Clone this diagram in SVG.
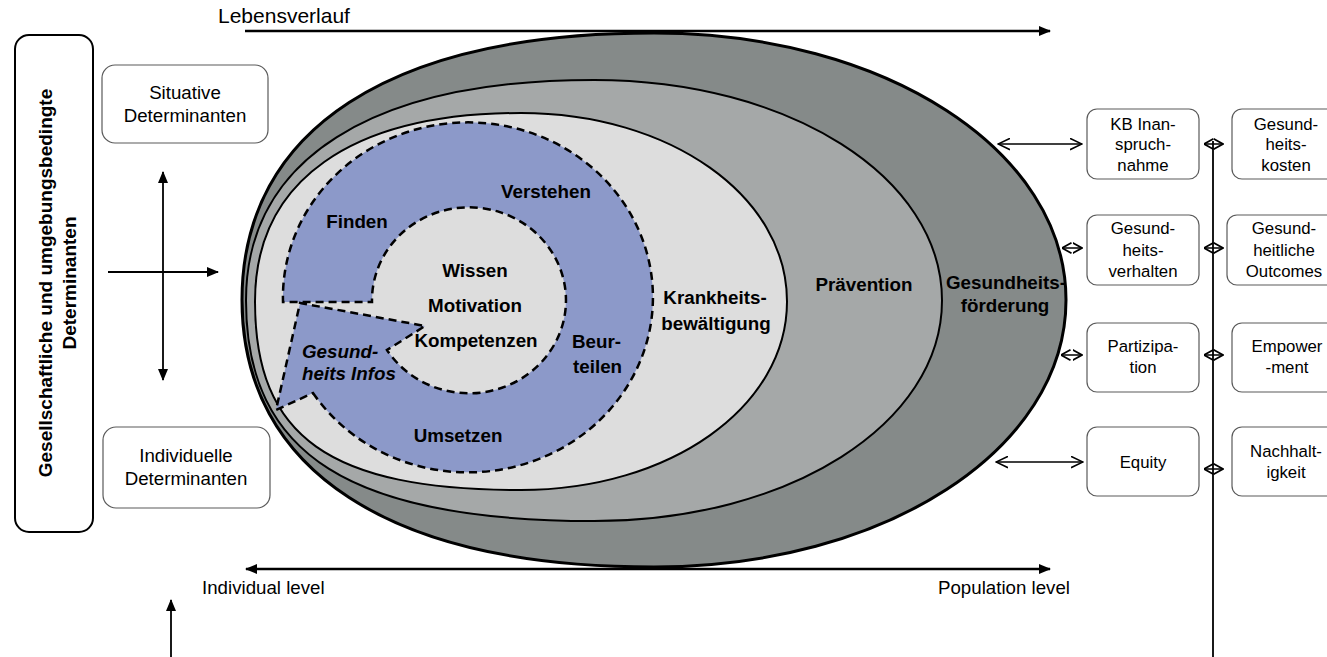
<svg xmlns="http://www.w3.org/2000/svg" width="1327" height="657" viewBox="0 0 1327 657">
<defs>
<style>
text{font-family:"Liberation Sans",Arial,sans-serif;fill:#000}
.r{font-size:18.7px}
.rs{font-size:16.8px}
.b{font-weight:bold;font-size:18.8px}
.bi{font-weight:bold;font-style:italic;font-size:18.8px}
.c{text-anchor:middle}
.box{fill:#fff;stroke:#5a5a5a;stroke-width:1.2}
.ln{stroke:#000;fill:none}
.ring{stroke:#000;stroke-width:2}
</style>
<marker id="fa" viewBox="0 0 12 10" refX="11" refY="5" markerWidth="12" markerHeight="10" markerUnits="userSpaceOnUse" orient="auto-start-reverse"><path d="M0,0 L12,5 L0,10 z" fill="#000"/></marker>
<marker id="oa" viewBox="0 0 13 13" refX="12" refY="6.5" markerWidth="13" markerHeight="13" markerUnits="userSpaceOnUse" orient="auto-start-reverse"><path d="M0,0.8 L12,6.5 L0,12.2" fill="none" stroke="#000" stroke-width="1.5"/></marker>
<marker id="od" viewBox="0 0 10 12" refX="9.5" refY="6" markerWidth="10" markerHeight="12" markerUnits="userSpaceOnUse" orient="auto-start-reverse"><path d="M0,0.8 L9.5,6 L0,11.2" fill="none" stroke="#000" stroke-width="1.8"/></marker>
<path id="pm" d="M246,300.5 C246,159.4 371.3,80 594,80 C788.9,80 942,177 942,300.5 C942,424 788.9,521 594,521 C350.4,521 246,454.9 246,300.5 Z"/>
<clipPath id="cm"><use href="#pm"/></clipPath>
</defs>

<g id="gesundheitsfoerderung">
<path d="M242,300 C242,129.1 390.3,33 654,33 C884.7,33 1066,150.5 1066,300 C1066,449.5 884.7,567 654,567 C390.3,567 242,470.9 242,300 Z" fill="#858a89" stroke="#000" stroke-width="3"/>
<text class="b c" x="1006" y="289">Gesundheits-</text>
<text class="b c" x="1005" y="312">förderung</text>
</g>

<g id="praevention">
<use href="#pm" fill="#a5a8a8"/>
<text class="b c" x="864" y="291">Prävention</text>
</g>

<g id="krankheitsbewaeltigung">
<path d="M255,301.5 C255,180.9 350.8,113 521,113 C670,113 787,195.9 787,301.5 C787,407.1 670,490 521,490 C329.5,490 255,437.2 255,301.5 Z" fill="#dddddd" class="ring" clip-path="url(#cm)"/>
<use href="#pm" fill="none" class="ring"/>
<text class="b c" x="715" y="304">Krankheits-</text>
<text class="b c" x="716" y="330">bewältigung</text>
</g>

<g id="gesundheitskompetenz-zyklus">
<path d="M313,393 A185,175 0 1 0 283,302 L372,302 A97,93 0 1 1 387,350 L425,326 L300,303 L276,410 Z" fill="#8c99c9" stroke="#000" stroke-width="2.5" stroke-dasharray="8,5" stroke-linejoin="miter"/>
<text class="b c" x="546" y="198">Verstehen</text>
<text class="b c" x="357" y="228">Finden</text>
<text class="b c" x="475" y="277">Wissen</text>
<text class="b c" x="475" y="312">Motivation</text>
<text class="b c" x="476" y="347">Kompetenzen</text>
<text class="b" x="572" y="348">Beur-</text>
<text class="b" x="573" y="373">teilen</text>
<text class="bi" x="302" y="358">Gesund-</text>
<text class="bi" x="302" y="380">heits Infos</text>
<text class="b c" x="458" y="442">Umsetzen</text>
</g>

<g id="gesellschaftliche-determinanten">
<rect x="15" y="35" width="78" height="497" rx="14" fill="#fff" stroke="#000" stroke-width="2"/>
<text class="b c" style="font-size:19px" transform="translate(52,283) rotate(-90)">Gesellschaftliche und umgebungsbedingte</text>
<text class="b c" style="font-size:19px" transform="translate(76,283) rotate(-90)">Determinanten</text>
</g>

<g id="situative-determinanten">
<rect class="box" x="102" y="65" width="166" height="78" rx="13"/>
<text class="r c" x="185" y="99">Situative</text>
<text class="r c" x="185" y="122">Determinanten</text>
</g>

<g id="individuelle-determinanten">
<rect class="box" x="103" y="427" width="167" height="81" rx="13"/>
<text class="r c" x="186" y="462">Individuelle</text>
<text class="r c" x="186" y="485">Determinanten</text>
</g>

<g id="kb-inanspruchnahme">
<rect class="box" x="1087" y="109" width="112" height="70" rx="10"/>
<text class="rs c" x="1143" y="130">KB Inan-</text>
<text class="rs c" x="1143" y="150">spruch-</text>
<text class="rs c" x="1143" y="171">nahme</text>
</g>
<g id="gesundheitsverhalten">
<rect class="box" x="1087" y="215" width="112" height="70" rx="10"/>
<text class="rs c" x="1143" y="234">Gesund-</text>
<text class="rs c" x="1143" y="256">heits-</text>
<text class="rs c" x="1143" y="277">verhalten</text>
</g>
<g id="partizipation">
<rect class="box" x="1087" y="323" width="112" height="69" rx="10"/>
<text class="rs c" x="1143" y="352">Partizipa-</text>
<text class="rs c" x="1143" y="373">tion</text>
</g>
<g id="equity">
<rect class="box" x="1087" y="427" width="112" height="69" rx="10"/>
<text class="rs c" x="1143" y="468">Equity</text>
</g>
<g id="gesundheitskosten">
<rect class="box" x="1232" y="109" width="108" height="70" rx="10"/>
<text class="rs c" x="1286" y="130">Gesund-</text>
<text class="rs c" x="1286" y="150">heits-</text>
<text class="rs c" x="1286" y="171">kosten</text>
</g>
<g id="gesundheitliche-outcomes">
<rect class="box" x="1227" y="215" width="112" height="70" rx="10"/>
<text class="rs c" x="1284" y="234">Gesund-</text>
<text class="rs c" x="1284" y="256">heitliche</text>
<text class="rs c" x="1284" y="277">Outcomes</text>
</g>
<g id="empowerment">
<rect class="box" x="1232" y="323" width="108" height="69" rx="10"/>
<text class="rs c" x="1287" y="352">Empower</text>
<text class="rs c" x="1287" y="373">-ment</text>
</g>
<g id="nachhaltigkeit">
<rect class="box" x="1232" y="427" width="108" height="69" rx="10"/>
<text class="rs c" x="1286" y="457">Nachhalt-</text>
<text class="rs c" x="1286" y="478">igkeit</text>
</g>

<g id="axis-labels">
<text class="r" style="font-size:21px" x="218" y="23">Lebensverlauf</text>
<text class="r" x="202" y="594">Individual level</text>
<text class="r" x="938" y="594">Population level</text>
</g>

<g id="connectors" class="ln">
<line x1="245" y1="31" x2="1050" y2="31" stroke-width="2.5" marker-end="url(#fa)"/>
<line x1="246" y1="569" x2="1050" y2="569" stroke-width="2.5" marker-start="url(#fa)" marker-end="url(#fa)"/>
<line x1="163" y1="172" x2="163" y2="380" stroke-width="1.8" marker-start="url(#fa)" marker-end="url(#fa)"/>
<line x1="108" y1="272" x2="218" y2="272" stroke-width="1.8" marker-end="url(#fa)"/>
<line x1="171" y1="657" x2="171" y2="600" stroke-width="1.8" marker-end="url(#fa)"/>
<line x1="1213" y1="141" x2="1213" y2="657" stroke-width="1.8"/>
<line x1="998" y1="144" x2="1082" y2="144" stroke-width="1.5" marker-start="url(#oa)" marker-end="url(#oa)"/>
<line x1="996" y1="462" x2="1083" y2="462" stroke-width="1.5" marker-start="url(#oa)" marker-end="url(#oa)"/>
<line x1="1062" y1="248" x2="1082" y2="248" stroke-width="1.5" marker-start="url(#od)" marker-end="url(#od)"/>
<line x1="1061" y1="355" x2="1082" y2="355" stroke-width="1.5" marker-start="url(#od)" marker-end="url(#od)"/>
<line x1="1204" y1="144" x2="1223" y2="144" stroke-width="1.5" marker-start="url(#od)" marker-end="url(#od)"/>
<line x1="1204" y1="248" x2="1223" y2="248" stroke-width="1.5" marker-start="url(#od)" marker-end="url(#od)"/>
<line x1="1204" y1="355" x2="1223" y2="355" stroke-width="1.5" marker-start="url(#od)" marker-end="url(#od)"/>
<line x1="1204" y1="469" x2="1223" y2="469" stroke-width="1.5" marker-start="url(#od)" marker-end="url(#od)"/>
</g>
</svg>
